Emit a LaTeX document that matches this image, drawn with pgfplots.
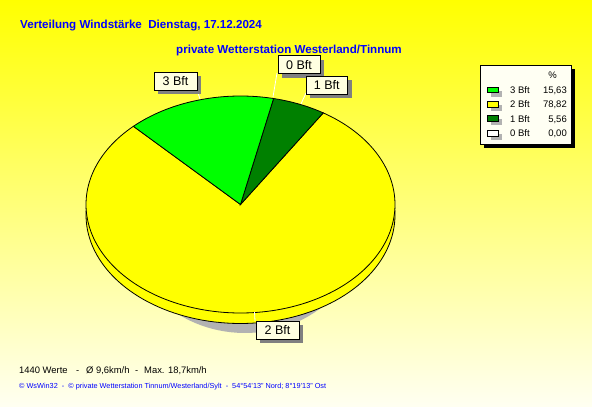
\documentclass[border=0pt]{standalone}
\usepackage{fontspec}
\setmainfont{Liberation Sans}
\usepackage{pgfplots}
\usepackage{pgfplotstable}
\pgfplotsset{compat=1.18}

\definecolor{bgtop}{RGB}{255,255,0}
\definecolor{bgbot}{RGB}{255,255,242}
\definecolor{wblue}{RGB}{0,0,255}
\definecolor{cthree}{RGB}{0,255,0}
\definecolor{ctwo}{RGB}{255,255,0}
\definecolor{cone}{RGB}{0,128,0}
\definecolor{czero}{RGB}{255,255,255}
\definecolor{tip}{RGB}{255,255,225}
\definecolor{legbg}{RGB}{255,255,243}
\definecolor{shad}{RGB}{128,128,128}
\definecolor{pshad}{RGB}{178,178,178}

% wind force distribution (percent), in drawing order (clockwise from the 3 Bft edge)
\pgfplotstableread{
bft pct
3 15.63
0 0.00
1 5.56
2 78.82
}\windtable

\begin{document}
\begin{tikzpicture}
\useasboundingbox (0,0) rectangle (592pt,407pt);
\shade[top color=bgtop, bottom color=bgbot] (0,0) rectangle (592pt,407pt);

\pgfplotstablegetelem{0}{pct}\of\windtable\edef\pA{\pgfplotsretval}
\pgfplotstablegetelem{1}{pct}\of\windtable\edef\pB{\pgfplotsretval}
\pgfplotstablegetelem{2}{pct}\of\windtable\edef\pC{\pgfplotsretval}
\pgfplotstablegetelem{3}{pct}\of\windtable\edef\pD{\pgfplotsretval}
\pgfmathsetmacro\aS{133.9}
\pgfmathsetmacro\aA{\aS-3.6*\pA}
\pgfmathsetmacro\aB{\aA-3.6*\pB}
\pgfmathsetmacro\aC{\aB-3.6*\pC}
\pgfmathsetmacro\aD{\aC-3.6*\pD}
\def\cx{240.5}\def\cy{204.5}\def\rx{154.5}\def\ry{108.5}\def\dd{10.5}

\begin{axis}[at={(0,0)}, anchor=south west, scale only axis,
  width=592pt, height=407pt, xmin=0, xmax=592, ymin=0, ymax=407,
  y dir=reverse, hide axis, clip=false]

% shadow under the pie
\addplot[fill=pshad, draw=none, domain=0:360, samples=120, variable=\t]
  ({245+118*cos(\t)}, {226+107*sin(\t)}) -- cycle;
% side (bottom ellipse)
\addplot[fill=ctwo, draw=black, line width=0.8pt, domain=0:360, samples=160, variable=\t]
  ({\cx+\rx*cos(\t)}, {\cy+\dd-\ry*sin(\t)}) -- cycle;
% slices
\addplot[fill=ctwo, draw=black, line width=0.8pt, domain=\aD:\aC, samples=160, variable=\t]
  ({\cx+\rx*cos(\t)}, {\cy-\ry*sin(\t)}) -- (\cx,\cy) -- cycle;
\addplot[fill=cone, draw=black, line width=0.8pt, domain=\aC:\aB, samples=30, variable=\t]
  ({\cx+\rx*cos(\t)}, {\cy-\ry*sin(\t)}) -- (\cx,\cy) -- cycle;
\addplot[fill=cthree, draw=black, line width=0.8pt, domain=\aA:\aS, samples=60, variable=\t]
  ({\cx+\rx*cos(\t)}, {\cy-\ry*sin(\t)}) -- (\cx,\cy) -- cycle;

% leader lines
\addplot[white, line width=0.8pt] coordinates {(197,90) (200,99)};
\addplot[white, line width=0.8pt] coordinates {(277,73) (273,97)};
\addplot[white, line width=0.8pt] coordinates {(306,93) (301,104)};
\addplot[white, line width=0.8pt] coordinates {(254.5,312) (255,321)};

% label boxes
\newcommand\lbl[5]{%
  \fill[shad] (#1+4,#2+4) rectangle (#3+4,#4+4);
  \filldraw[fill=tip, draw=black, line width=0.7pt] (#1,#2) rectangle (#3,#4);
  \node[inner sep=0, font=\fontsize{12.5}{14}\selectfont] at ({(#1+#3)/2},{(#2+#4)/2+0.5}) {#5};}
\lbl{154}{72}{197}{90}{3 Bft}
\lbl{278}{55.5}{320}{73.5}{0 Bft}
\lbl{306}{76}{347.5}{94}{1 Bft}
\lbl{256}{321}{299}{339}{2 Bft}

% legend
\fill[black] (483.5,68.5) rectangle (574.5,147.5);
\filldraw[fill=legbg, draw=black, line width=0.7pt] (480,65) rectangle (571,144);
\node[anchor=base, inner sep=0, font=\fontsize{9.5}{11}\selectfont] at (552.7,78.3) {\%};
\newcommand\legrow[4]{%
  \fill[pshad] (490.5,#1-2.2) rectangle (501.5,#1+3.8);
  \filldraw[fill=#2, draw=black, line width=0.7pt] (487,#1-5.5) rectangle (498,#1);
  \node[anchor=base west, inner sep=0, font=\fontsize{9.5}{11}\selectfont] at (510,#1+0.8) {#3};
  \node[anchor=base east, inner sep=0, font=\fontsize{9.5}{11}\selectfont] at (567,#1+0.8) {#4};}
\legrow{92.7}{cthree}{3 Bft}{15,63}
\legrow{107}{ctwo}{2 Bft}{78,82}
\legrow{121.3}{cone}{1 Bft}{5,56}
\legrow{136}{czero}{0 Bft}{0,00}

% titles
\node[anchor=base west, inner sep=0, text=wblue, font=\fontsize{11.6}{13}\selectfont\bfseries]
  at (20,28.5) {Verteilung Windstärke\ \ Dienstag, 17.12.2024};
\node[anchor=base west, inner sep=0, text=wblue, font=\fontsize{11.6}{13}\selectfont\bfseries]
  at (176,53.3) {private Wetterstation Westerland/Tinnum};

% footer
\node[anchor=base west, inner sep=0, font=\fontsize{9.4}{11}\selectfont] at (19,373) {1440 Werte};
\node[anchor=base west, inner sep=0, font=\fontsize{9.4}{11}\selectfont] at (76,373) {-};
\node[anchor=base west, inner sep=0, font=\fontsize{9.4}{11}\selectfont] at (86,373) {Ø 9,6km/h};
\node[anchor=base west, inner sep=0, font=\fontsize{9.4}{11}\selectfont] at (135,373) {-};
\node[anchor=base west, inner sep=0, font=\fontsize{9.4}{11}\selectfont] at (144,373) {Max. 18,7km/h};
\node[anchor=base west, inner sep=0, text=wblue, font=\fontsize{7.3}{9}\selectfont]
  at (19,388.3) {© WsWin32\ \ -\ \ © private Wetterstation Tinnum/Westerland/Sylt\ \ -\ \ 54°54'13" Nord; 8°19'13" Ost};
\end{axis}
\end{tikzpicture}
\end{document}
